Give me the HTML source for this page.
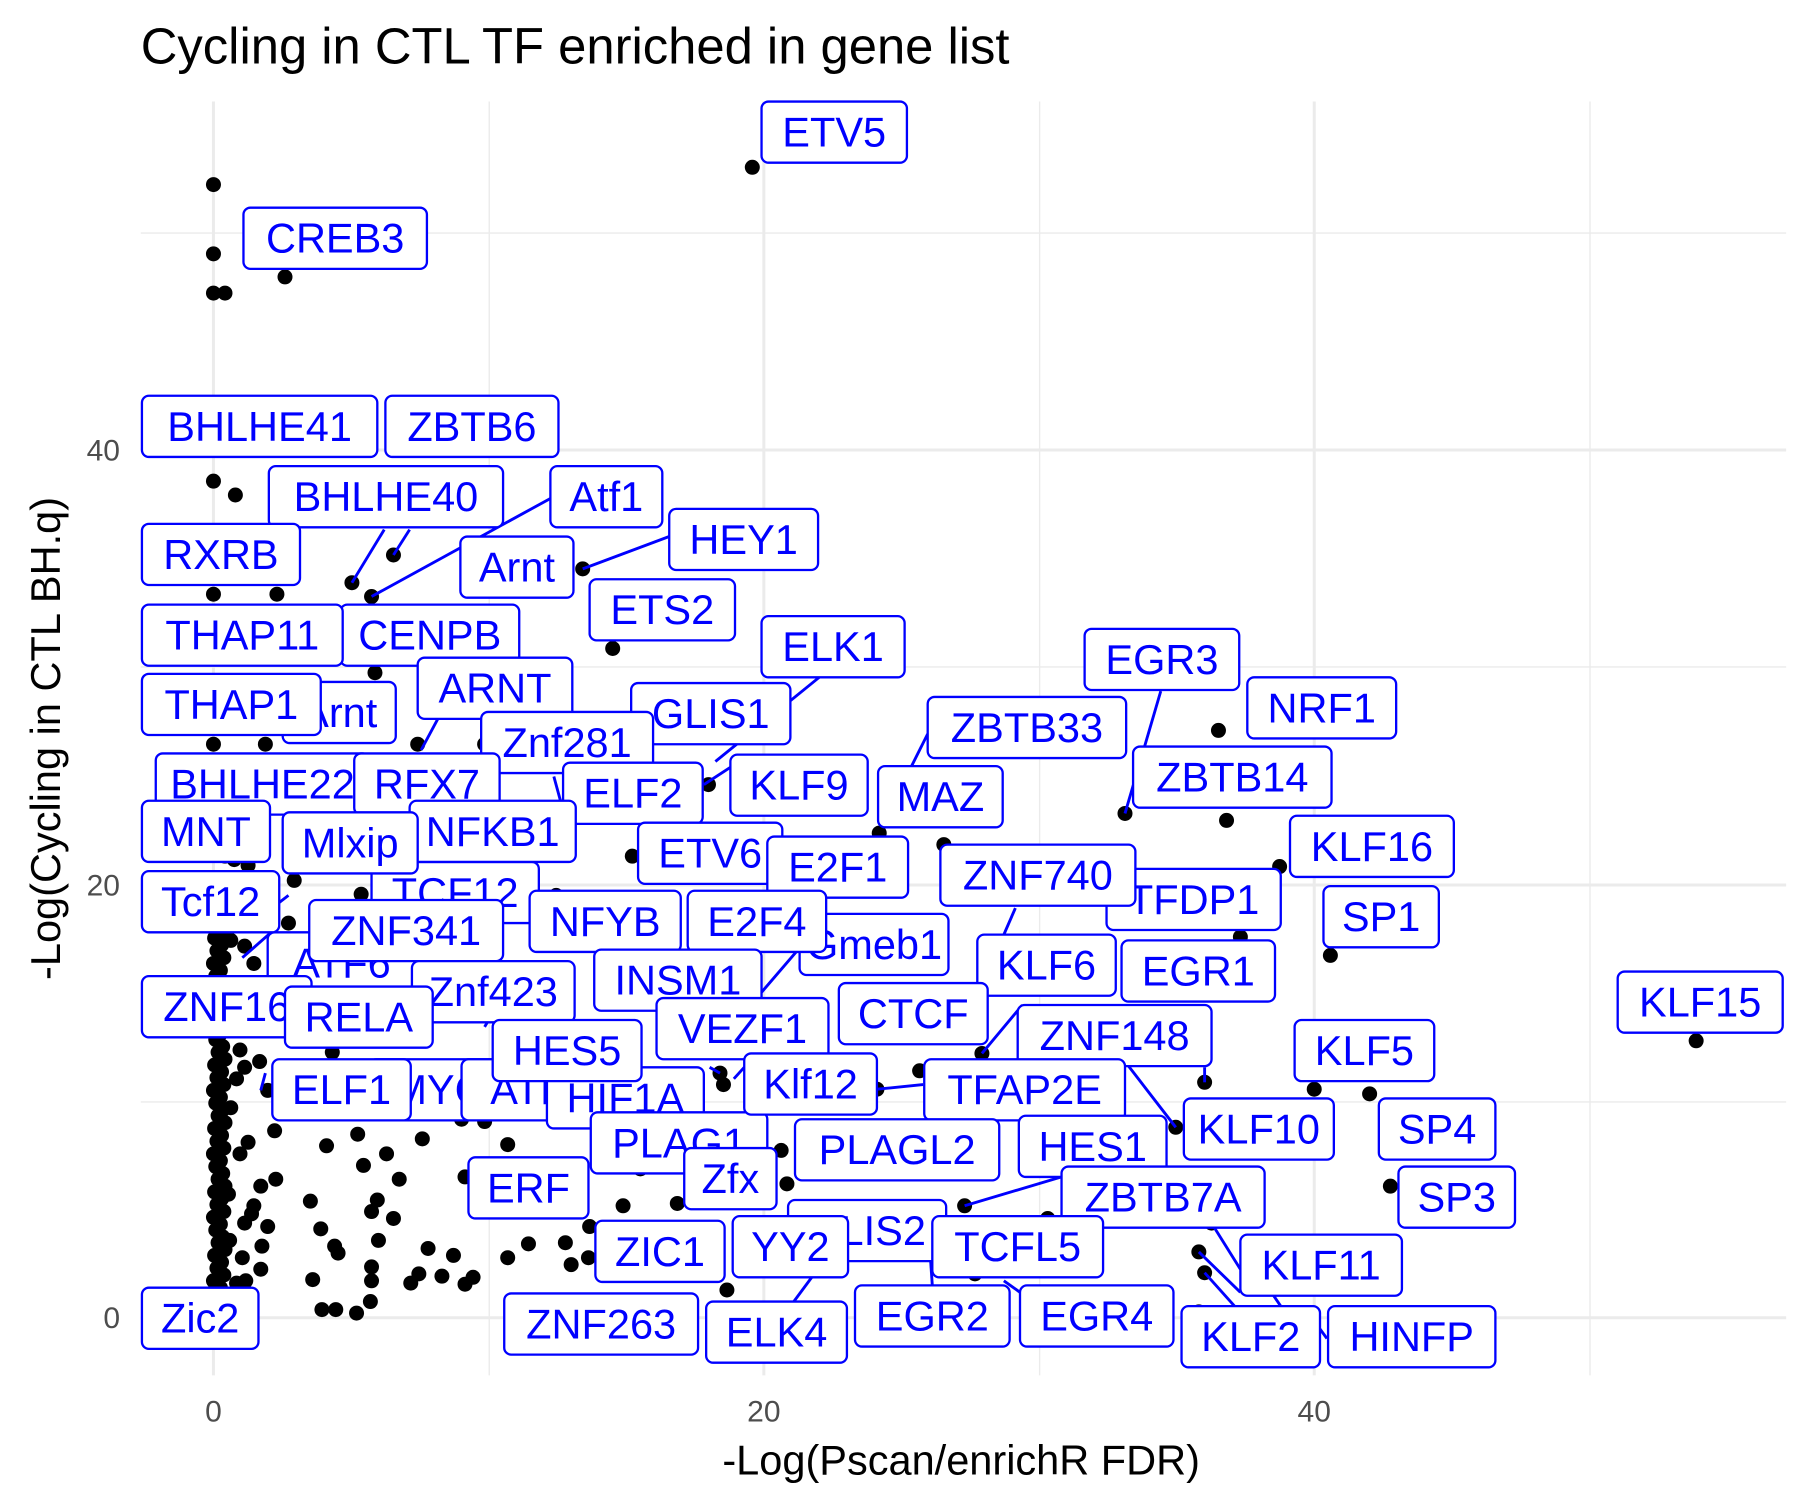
<!DOCTYPE html>
<html><head><meta charset="utf-8"><style>
html,body{margin:0;padding:0;background:#fff;}
svg{display:block;}
text{font-family:"Liberation Sans",sans-serif;}
</style></head><body>
<svg id="s" width="1800" height="1500" viewBox="0 0 1560 1300" xmlns="http://www.w3.org/2000/svg">
<rect width="1560" height="1300" fill="#fff"/>
<g stroke="#ebebeb" stroke-width="1.2">
<line x1="424" y1="88" x2="424" y2="1192"/><line x1="901" y1="88" x2="901" y2="1192"/><line x1="1378" y1="88" x2="1378" y2="1192"/>
<line x1="122" y1="955" x2="1548" y2="955"/><line x1="122" y1="578" x2="1548" y2="578"/><line x1="122" y1="202" x2="1548" y2="202"/>
</g>
<g stroke="#ebebeb" stroke-width="2.6">
<line x1="185" y1="88" x2="185" y2="1192"/><line x1="662" y1="88" x2="662" y2="1192"/><line x1="1139" y1="88" x2="1139" y2="1192"/>
<line x1="122" y1="1142" x2="1548" y2="1142"/><line x1="122" y1="767" x2="1548" y2="767"/><line x1="122" y1="390" x2="1548" y2="390"/>
</g>
<text x="122" y="55" font-size="44" fill="#000">Cycling in CTL TF enriched in gene list</text>
<g font-size="26" fill="#4d4d4d">
<text x="185" y="1232" text-anchor="middle">0</text><text x="662" y="1232" text-anchor="middle">20</text><text x="1139" y="1232" text-anchor="middle">40</text>
<text x="104" y="1151" text-anchor="end">0</text><text x="104" y="776" text-anchor="end">20</text><text x="104" y="399" text-anchor="end">40</text>
</g>
<text x="833" y="1278" font-size="36" text-anchor="middle">-Log(Pscan/enrichR FDR)</text>
<text transform="translate(52,640) rotate(-90)" font-size="36" text-anchor="middle">-Log(Cycling in CTL BH.q)</text>
<g id="pts" fill="#000"></g>
<g id="lines" stroke="#0000ff" stroke-width="2.5" fill="none"></g>
<g id="labs"></g>
</svg>
<script>
var NS="http://www.w3.org/2000/svg";
var P=[[652,145],[185,160],[185,220],[185,254],[195,254],[247,240],[185,417],[204,429],[305,505],[341,481],[322,517],[505,493],[531,562],[240,515],[185,515],[325,583],[185,645],[230,645],[362,645],[420,645],[614,680],[548,742],[762,722],[818,732],[975,705],[1056,633],[1063,711],[1109,751],[1075,812],[1153,828],[1470,902],[1044,938],[1139,944],[1187,948],[1019,977],[1205,1028],[851,913],[797,928],[760,944],[624,930],[627,940],[677,997],[682,1026],[555,1013],[587,1043],[540,1045],[836,1045],[908,1056],[1039,1085],[1044,1103],[1039,1137],[1050,1060],[630,1118],[845,1104],[255,763],[250,800],[482,776],[313,775],[195,742],[288,912],[420,972],[400,970],[440,992],[283,993],[310,983],[315,1010],[335,1000],[346,1022],[366,987],[403,1020],[269,1041],[278,1065],[290,1080],[293,1086],[327,1040],[322,1050],[341,1056],[328,1075],[371,1082],[393,1088],[322,1098],[322,1110],[356,1112],[363,1104],[383,1106],[403,1113],[410,1107],[440,1090],[458,1078],[490,1077],[495,1096],[510,1090],[511,1063],[271,1109],[279,1135],[291,1135],[309,1138],[321,1128],[238,980],[239,1022],[226,1028],[232,1063],[227,1080],[226,1100],[213,1110],[205,1112],[210,1090],[199,1075],[218,1052],[212,1060],[220,1045],[198,1035],[208,1000],[200,960],[215,990],[225,920],[212,925],[205,935],[208,910],[217,880],[228,873],[232,945],[220,835],[212,820],[200,815],[204,790],[196,770],[203,745],[215,750]];
for(var y=780;y<=1110;y+=11){for(var k=0;k<2;k++){P.push([185+k*6+((y*7)%5),y+((k*13)%7)]);}}
var g=document.getElementById('pts');
P.forEach(function(p){var c=document.createElementNS(NS,'circle');c.setAttribute('cx',p[0]);c.setAttribute('cy',p[1]);c.setAttribute('r',6.5);g.appendChild(c);});
var L=[[477,432,322,517],[580,465,505,493],[333,459,305,505],[355,459,341,481],[710,587,620,660],[1006,599,975,705],[804,636,790,664],[975,920,1019,977],[920,1020,836,1045],[1075,1100,1050,1060],[1075,1120,1039,1085],[1070,1132,1044,1103],[1110,1132,1095,1110],[808,1114,805,1070],[688,1128,705,1105],[1150,1160,1139,1145],[884,1120,870,1110],[610,680,633,665],[886,871,851,913],[873,810,860,830],[880,787,870,810],[365,650,380,622],[486,695,480,673],[235,808,210,830],[232,790,250,776],[230,930,226,945],[435,865,420,890],[800,940,760,944],[636,935,645,925],[660,860,690,825],[615,925,624,930],[690,1054,705,1040],[1044,938,1044,925]];
var lg=document.getElementById('lines');
L.forEach(function(l){var e=document.createElementNS(NS,'line');e.setAttribute('x1',l[0]);e.setAttribute('y1',l[1]);e.setAttribute('x2',l[2]);e.setAttribute('y2',l[3]);lg.appendChild(e);});
var B=[
["CENPB",295,524,450],["Arnt",245,591,343],["BHLHE22",135,653,320],["TCF12",322,747,467],["ATF6",232,808,360],["MYC",320,918,440],["ATF",400,918,515],["HIF1A",474,925,610],["GLIS2",683,1040,820],["Gmeb1",693,792,822],["TFDP1",959,753,1110],["PLAG1",512,964,665],["GLIS1",547,592,685],
["ETV5",660,88,786],["CREB3",211,180,370],["BHLHE41",123,343,327],["ZBTB6",334,343,484],["BHLHE40",233,404,436],["Atf1",477,404,574],["HEY1",580,441,709],["Arnt",399,465,497],["RXRB",123,454,260],["ETS2",511,502,637],["THAP11",123,524,297],["ELK1",660,534,784],["EGR3",940,545,1074],["NRF1",1081,587,1210],["THAP1",123,584,278],["ARNT",362,570,496],["ZBTB33",804,604,976],["Znf281",417,617,566],["RFX7",307,653,433],["ELF2",488,661,609],["KLF9",633,654,752],["ZBTB14",982,647,1154],["MAZ",761,664,869],["MNT",123,694,234],["NFKB1",355,694,499],["Mlxip",245,704,362],["KLF16",1118,707,1260],["ETV6",553,713,678],["E2F1",665,725,787],["ZNF740",815,732,984],["Tcf12",123,755,242],["ZNF341",268,780,436],["NFYB",459,772,590],["E2F4",596,772,716],["SP1",1147,768,1247],["KLF6",847,810,967],["EGR1",972,815,1105],["INSM1",515,823,660],["Znf423",357,833,498],["ZNF16",123,846,270],["RELA",247,855,375],["KLF15",1402,842,1545],["CTCF",727,852,856],["VEZF1",569,865,718],["ZNF148",882,871,1050],["HES5",427,884,556],["KLF5",1122,884,1243],["ELF1",236,918,356],["Klf12",645,913,760],["TFAP2E",801,918,975],["KLF10",1026,952,1156],["SP4",1195,952,1296],["PLAGL2",689,970,866],["HES1",883,967,1011],["Zfx",593,995,673],["ERF",406,1003,510],["SP3",1212,1011,1313],["ZBTB7A",920,1011,1096],["YY2",635,1054,735],["TCFL5",808,1054,956],["ZIC1",516,1058,628],["KLF11",1075,1070,1215],["Zic2",123,1116,224],["ZNF263",437,1121,605],["ELK4",612,1128,734],["EGR2",741,1114,875],["EGR4",884,1114,1017],["KLF2",1024,1132,1144],["HINFP",1151,1132,1296]];
var lb=document.getElementById('labs');
B.forEach(function(b){var r=document.createElementNS(NS,'rect');r.setAttribute('x',b[1]);r.setAttribute('y',b[2]);r.setAttribute('width',b[3]-b[1]);r.setAttribute('height',53);r.setAttribute('rx',6);r.setAttribute('fill','#fff');r.setAttribute('stroke','#0000ff');r.setAttribute('stroke-width',2);lb.appendChild(r);
var t=document.createElementNS(NS,'text');t.setAttribute('x',(b[1]+b[3])/2);t.setAttribute('y',b[2]+39);t.setAttribute('text-anchor','middle');t.setAttribute('font-size',36);t.setAttribute('fill','#0000ff');t.textContent=b[0];lb.appendChild(t);});
</script>
</body></html>
